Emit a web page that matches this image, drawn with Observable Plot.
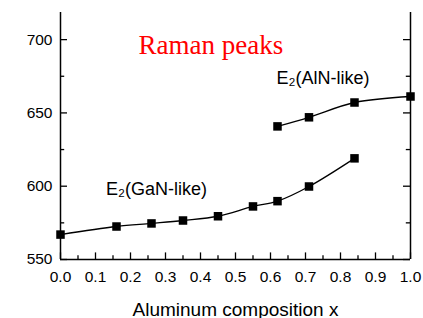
<!DOCTYPE html>
<html><head><meta charset="utf-8">
<script src="https://cdn.jsdelivr.net/npm/d3@7"></script>
<script src="https://cdn.jsdelivr.net/npm/@observablehq/plot@0.6"></script>
<style>body{margin:0;background:#fff}</style>
</head><body><div id="chart"></div>
<script>
const ganX = [0.0, 0.16, 0.26, 0.35, 0.45, 0.55, 0.62, 0.71, 0.84];
const ganY = [567, 572.5, 574.6, 576.6, 579.5, 586.2, 589.8, 599.8, 619];
const alnX = [0.62, 0.71, 0.84, 1.0];
const alnY = [640.8, 647, 657.1, 661.2];
const yTicks = [550, 600, 650, 700];
const yMinor = [575, 625, 675];
const xTicks = [0, 0.1, 0.2, 0.3, 0.4, 0.5, 0.6, 0.7, 0.8, 0.9, 1.0];
const xMinor = [0.05, 0.15, 0.25, 0.35, 0.45, 0.55, 0.65, 0.75, 0.85, 0.95];
const title = "Raman peaks";
const xLabel = "Aluminum composition x";
const labels = [
  {text: "E₂(GaN-like)", x: 0.13, y: 594},
  {text: "E₂(AlN-like)", x: 0.617, y: 670}
];

const gan = ganX.map((x, i) => ({x, y: ganY[i]}));
const aln = alnX.map((x, i) => ({x, y: alnY[i]}));

const chart = Plot.plot({
  width: 423, height: 318,
  marginLeft: 60, marginRight: 13, marginTop: 12, marginBottom: 59,
  x: {domain: [0, 1]},
  y: {domain: [550, 718.5]},
  style: {fontFamily: "'Liberation Sans', Arial, sans-serif", color: "#000", background: "#fff"},
  marks: [
    Plot.axisY(yTicks, {tickSize: 0, tickPadding: 8, fontSize: 15.5, tickFormat: d => String(d), label: null}),
    Plot.axisX(xTicks, {tickSize: 0, tickPadding: 11, fontSize: 15.5, tickFormat: d3.format(".1f"), label: null}),
    Plot.ruleX([0, 1], {y1: 550, y2: 718.5, stroke: "#000", strokeWidth: 1.5}),
    Plot.ruleY([550], {x1: 0, x2: 1, stroke: "#000", strokeWidth: 1.5}),
    Plot.ruleY(yTicks, {x1: 0, x2: 0.02, stroke: "#000", strokeWidth: 1.3}),
    Plot.ruleY(yMinor, {x1: 0, x2: 0.012, stroke: "#000", strokeWidth: 1.3}),
    Plot.ruleY(yTicks, {x1: 0.98, x2: 1, stroke: "#000", strokeWidth: 1.3}),
    Plot.ruleY(yMinor, {x1: 0.988, x2: 1, stroke: "#000", strokeWidth: 1.3}),
    Plot.ruleX(xTicks, {y1: 550, y2: 554.5, stroke: "#000", strokeWidth: 1.3}),
    Plot.ruleX(xMinor, {y1: 550, y2: 552.5, stroke: "#000", strokeWidth: 1.3}),
    Plot.line(gan, {x: "x", y: "y", curve: "catmull-rom", stroke: "#000", strokeWidth: 1.3}),
    Plot.line(aln, {x: "x", y: "y", curve: "catmull-rom", stroke: "#000", strokeWidth: 1.3}),
    Plot.dot(gan, {x: "x", y: "y", symbol: "square", r: 4.8, fill: "#000"}),
    Plot.dot(aln, {x: "x", y: "y", symbol: "square", r: 4.8, fill: "#000"}),
    Plot.text(labels, {x: "x", y: "y", text: "text", textAnchor: "start", lineAnchor: "bottom", fontSize: 18}),
    Plot.text([title], {x: 0.223, y: 690.5, text: d => d, textAnchor: "start", lineAnchor: "bottom",
      fontSize: 27, fill: "red", fontFamily: "'Liberation Serif', 'Times New Roman', serif"}),
    Plot.text([xLabel], {frameAnchor: "bottom", dy: 56, text: d => d, lineAnchor: "bottom", fontSize: 19})
  ]
});
document.getElementById("chart").appendChild(chart);
</script>
</body></html>
